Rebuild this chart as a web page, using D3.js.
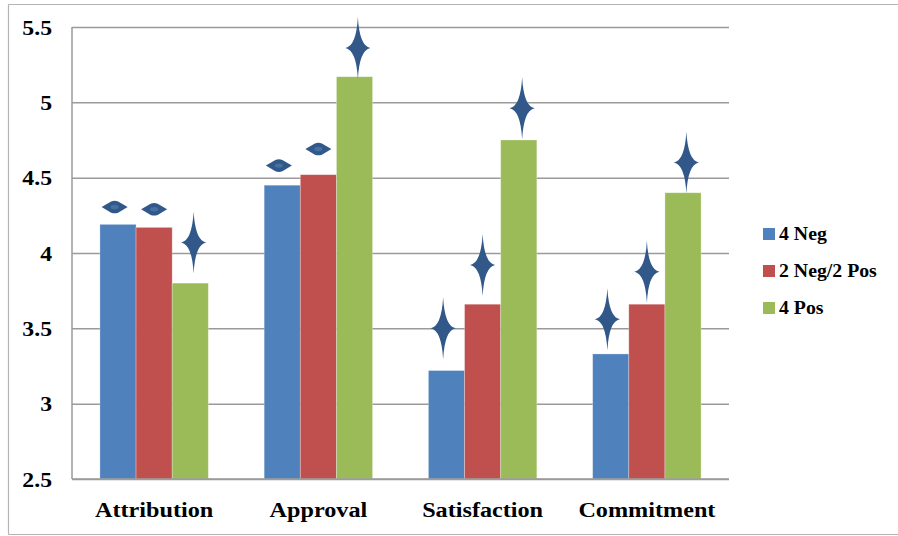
<!DOCTYPE html>
<html>
<head>
<meta charset="utf-8">
<script src="https://cdn.jsdelivr.net/npm/d3@7"></script>
<style>
  html, body { margin: 0; padding: 0; background: #fff; }
  svg { display: block; }
  svg text { font-family: "Liberation Serif", Tinos, "Times New Roman", serif !important; font-weight: bold; fill: #000; }
</style>
</head>
<body>
<svg id="chart" width="898" height="536"></svg>
<script>
// Mean ratings per condition
const categories = ["Attribution", "Approval", "Satisfaction", "Commitment"];
const series = ["4 Neg", "2 Neg/2 Pos", "4 Pos"];
const neg4     = [4.19, 4.45, 3.22, 3.33];
const mixed    = [4.17, 4.52, 3.66, 3.66];
const pos4     = [3.80, 5.17, 4.75, 4.40];
const yTicks   = [2.5, 3, 3.5, 4, 4.5, 5, 5.5];
const yTickLabels = ["2.5", "3", "3.5", "4", "4.5", "5", "5.5"];
const colors   = ["#4F81BD", "#C0504D", "#9BBB59"];

// Significance markers: symbol type and the level (in rating units) where each sits
const markerType = [
  ["diamond", "diamond", "star"],
  ["diamond", "diamond", "star"],
  ["star", "star", "star"],
  ["star", "star", "star"]
];
const markerLevel = [
  [4.305, 4.29, 4.07],
  [4.58, 4.69, 5.36],
  [3.50, 3.92, 4.96],
  [3.56, 3.875, 4.60]
];

const values = [neg4, mixed, pos4];
const rows = categories.map((c, i) => ({
  category: c,
  bars: series.map((s, j) => ({ series: s, idx: j, value: values[j][i] })),
  marks: series.map((s, j) => ({ series: s, idx: j, type: markerType[i][j], level: markerLevel[i][j] }))
}));

const svg = d3.select("#chart");
const W = 898, H = 536;
const plot = { left: 72, right: 729, top: 27, bottom: 479 };
const FONT = '"Liberation Serif", Tinos, "Times New Roman", serif';

// outer frame
const frame = svg.append("g").attr("stroke", "#b4b4b4").attr("stroke-width", 1.2).attr("fill", "none");
frame.append("line").attr("x1", 8.5).attr("x2", 8.5).attr("y1", 4.5).attr("y2", 534.5);
frame.append("line").attr("x1", 8.5).attr("x2", W).attr("y1", 4.5).attr("y2", 4.5);
frame.append("line").attr("x1", 8.5).attr("x2", W).attr("y1", 534.5).attr("y2", 534.5);

const y = d3.scaleLinear().domain([2.5, 5.5]).range([plot.bottom, plot.top]);
const x0 = d3.scaleBand().domain(categories).range([plot.left, plot.right])
  .paddingInner(0.34).paddingOuter(0.17);
const x1 = d3.scaleBand().domain(series).range([0, x0.bandwidth()]);
const xm = d3.scalePoint().domain(series).range([-39.5, 39.5]);

// gridlines
const grid = svg.append("g").attr("transform", `translate(${plot.left},0)`)
  .call(d3.axisLeft(y).tickValues(yTicks).tickSize(-(plot.right - plot.left)).tickFormat(""));
grid.select(".domain").remove();
grid.selectAll(".tick line").attr("stroke", "#9a9a9a").attr("stroke-width", 1.5);

// y tick labels
const yAxis = svg.append("g").attr("transform", `translate(${plot.left},0)`)
  .call(d3.axisLeft(y).tickValues(yTicks).tickSize(0).tickPadding(20)
    .tickFormat((d, i) => yTickLabels[i]));
yAxis.select(".domain").remove();
yAxis.attr("font-family", FONT);
yAxis.selectAll("text")
  .attr("font-size", 22)
  .attr("font-weight", "bold")
  .attr("fill", "#000")
  .attr("x", -20 / 1.08)
  .attr("transform", "scale(1.08,1)");

// bars
const groups = svg.append("g").selectAll("g").data(rows).join("g")
  .attr("transform", d => `translate(${x0(d.category)},0)`);
groups.selectAll("rect").data(d => d.bars).join("rect")
  .attr("x", d => x1(d.series))
  .attr("y", d => y(d.value))
  .attr("width", x1.bandwidth())
  .attr("height", d => y(2.5) - y(d.value))
  .attr("fill", d => colors[d.idx])
  .attr("stroke", "rgba(255,255,255,0.35)")
  .attr("stroke-width", 0.8);

// axis lines
const axes = svg.append("g").attr("stroke", "#9a9a9a").attr("stroke-width", 1.5);
axes.append("line").attr("x1", plot.left).attr("x2", plot.left).attr("y1", plot.top).attr("y2", plot.bottom);
axes.append("line").attr("x1", plot.left).attr("x2", plot.right).attr("y1", plot.bottom).attr("y2", plot.bottom);

// category labels
const xAxis = svg.append("g").attr("transform", `translate(0,${plot.bottom})`)
  .call(d3.axisBottom(x0).tickSize(0).tickPadding(22));
xAxis.select(".domain").remove();
xAxis.attr("font-family", FONT);
xAxis.selectAll("text")
  .attr("font-size", 22)
  .attr("font-weight", "bold")
  .attr("fill", "#000")
  .attr("transform", "scale(1.1,1)");

// significance markers
const defs = svg.append("defs");
defs.append("filter").attr("id", "soft").attr("x", "-50%").attr("y", "-50%").attr("width", "200%").attr("height", "200%")
  .append("feGaussianBlur").attr("stdDeviation", 0.7);
const starPath = "M0,-31 Q1.6,-2 12.5,0 Q1.6,2 0,31 Q-1.6,2 -12.5,0 Q-1.6,-2 0,-31Z";
const diamondPath = "M-13,0 L-3.5,-5.6 Q0,-7 3.5,-5.6 L13,0 L3.5,5.6 Q0,7 -3.5,5.6 Z";
const markColor = "#31598A";

const markG = svg.append("g").attr("filter", "url(#soft)");
const markSets = markG.selectAll("g").data(rows).join("g")
  .attr("transform", d => `translate(${x0(d.category) + x0.bandwidth() / 2},0)`);
markSets.selectAll("path").data(d => d.marks).join("path")
  .attr("d", d => d.type === "star" ? starPath : diamondPath)
  .attr("transform", d => `translate(${xm(d.series)},${y(d.level)})`)
  .attr("fill", markColor);
// soft highlight in the middle of each diamond
markSets.selectAll("ellipse").data(d => d.marks.filter(m => m.type === "diamond")).join("ellipse")
  .attr("cx", d => xm(d.series))
  .attr("cy", d => y(d.level))
  .attr("rx", 4).attr("ry", 2.2)
  .attr("fill", "#4A76A8")
  .attr("opacity", 0.8);

// legend
const legend = svg.append("g").attr("transform", "translate(763,0)").attr("font-family", FONT);
const legendY = [234, 271, 308];
const li = legend.selectAll("g").data(series).join("g")
  .attr("transform", (d, i) => `translate(0,${legendY[i]})`);
li.append("rect").attr("x", 0).attr("y", -6).attr("width", 12).attr("height", 12)
  .attr("fill", (d, i) => colors[i]);
li.append("g").attr("transform", "translate(16,0) scale(1.1,1)")
  .append("text")
  .attr("dy", "0.35em")
  .attr("font-size", 18)
  .text(d => d);
</script>
</body>
</html>
